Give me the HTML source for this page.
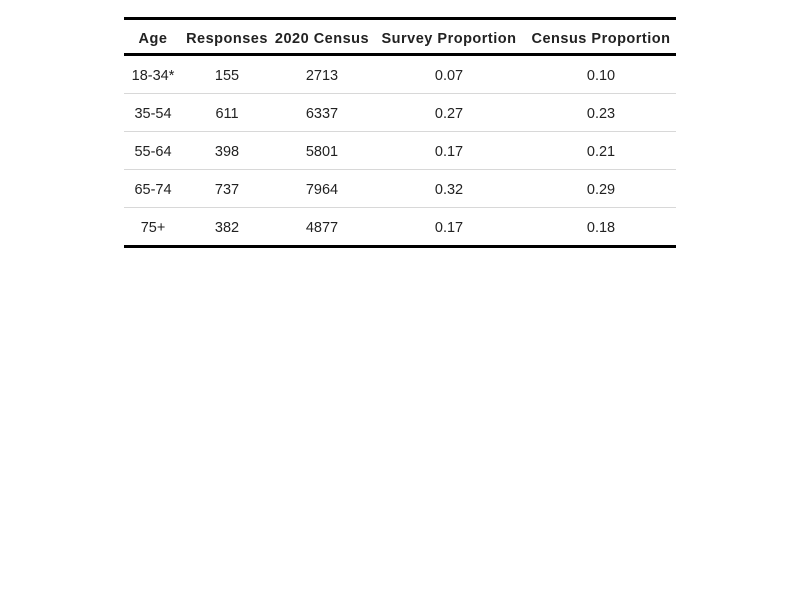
<!DOCTYPE html>
<html><head><meta charset="utf-8"><style>
body{margin:0;width:800px;height:600px;background:#fff;font-family:"Liberation Sans","DejaVu Sans",sans-serif;color:#222;}
table{position:absolute;left:124px;top:17px;width:552px;border-collapse:collapse;font-size:14.5px;}
th{font-weight:bold;height:29px;padding:4px 0 0 0;text-align:center;border-top:3px solid #000;border-bottom:3px solid #000;letter-spacing:0.5px;}
td{height:35px;padding:2px 0 0 0;text-align:center;border-bottom:1px solid #d8d8d8;}
tr:last-child td{border-bottom:3px solid #000;}
</style></head><body>
<table>
<colgroup><col style="width:58px"><col style="width:90px"><col style="width:100px"><col style="width:154px"><col style="width:150px"></colgroup>
<tr><th>Age</th><th>Responses</th><th>2020 Census</th><th>Survey Proportion</th><th>Census Proportion</th></tr>
<tr><td>18-34*</td><td>155</td><td>2713</td><td>0.07</td><td>0.10</td></tr>
<tr><td>35-54</td><td>611</td><td>6337</td><td>0.27</td><td>0.23</td></tr>
<tr><td>55-64</td><td>398</td><td>5801</td><td>0.17</td><td>0.21</td></tr>
<tr><td>65-74</td><td>737</td><td>7964</td><td>0.32</td><td>0.29</td></tr>
<tr><td>75+</td><td>382</td><td>4877</td><td>0.17</td><td>0.18</td></tr>
</table>
</body></html>
